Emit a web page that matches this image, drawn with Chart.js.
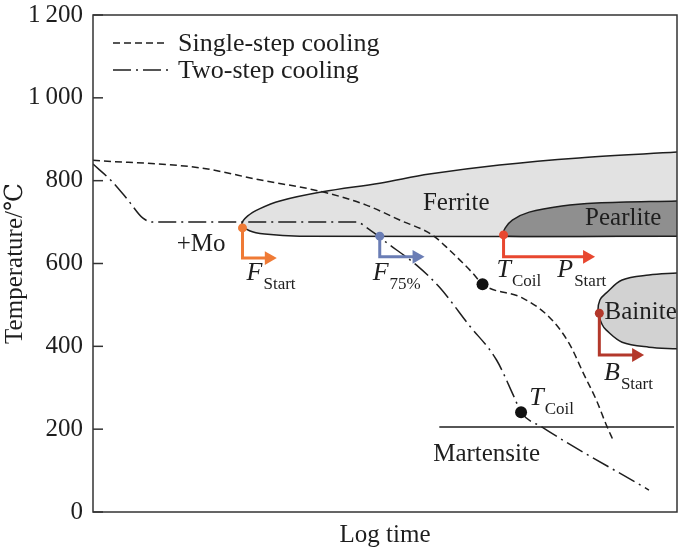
<!DOCTYPE html>
<html>
<head>
<meta charset="utf-8">
<script src="https://cdn.jsdelivr.net/npm/chart.js@4.4.1/dist/chart.umd.min.js"></script>
<style>
  html, body { margin: 0; padding: 0; background: #fff; }
</style>
</head>
<body>
<canvas id="cct" width="685" height="553"></canvas>
<script>
// ---- data (x = log time, arbitrary units 0-100; y = temperature in °C) ----
const singleStep = [[0,849],[18.3,831],[28.5,802],[39.3,773],[46.8,741],[52.5,705],[58.1,669],
  [61.0,633],[65.0,577],[66.7,550],[73.5,517],[78.1,471],[81.5,408],[84.1,331],
  [86.2,270],[87.9,210],[89.2,169]];
const twoStep = [[0,840],[3.2,799],[6.0,753],[8.5,710],[10.3,700],[45.1,700],[47.4,681],
  [50.3,650],[55.4,596],[59.3,543],[64.4,451],[69.1,367],[72.1,278],[73.3,241],[76.9,205],[95.2,53]];

const ferriteTop = [[100,869],[83.2,855],[69.6,838],[57.6,816],[49.1,794],[39.3,773],[32.0,751],
  [28.5,732],[26.5,715],[25.5,695]];
const ferriteBottom = [[26.8,679],[29.4,671],[35.4,666],[100,666]];
const pearliteTop = [[100,751],[86.2,746],[80.3,739],[74.7,724],[71.8,705],[70.6,686],[70.3,672]];
const pearliteBottom = [[71.2,666],[100,666]];
const bainiteTop = [[100,577],[95.2,572],[90.6,560],[87.9,529],[86.8,512],[86.5,482]];
const bainiteBottom = [[87.2,452],[87.9,439],[90.6,410],[95.2,398],[100,394]];
const martensite = [[59.3,205],[99.5,205]];

const coilPoints = [[66.7,550],[73.3,241]];
const fStart = [[25.6,686],[25.6,613],[30.1,613]];
const f75 = [[49.1,666],[49.1,616],[55.4,616]];
const pStart = [[70.3,669],[70.3,616],[84.6,616]];
const bStart = [[86.7,480],[86.7,379],[93.0,379]];

const tempTicks = [0, 200, 400, 600, 800, 1000, 1200];

const regionLabels = [
  { text: 'Ferrite', x: 62.2, y: 746, align: 'center' },
  { text: 'Pearlite', x: 90.8, y: 710, align: 'center' },
  { text: 'Bainite', x: 87.6, y: 483, align: 'left' },
  { text: 'Martensite', x: 67.4, y: 138, align: 'center' },
  { text: '+Mo', x: 18.5, y: 645, align: 'center' }
];
const markerLabels = [
  { main: 'F', sub: 'Start', x: 26.3, y: 560 },
  { main: 'F', sub: '75%', x: 47.9, y: 560 },
  { main: 'T', sub: 'Coil', x: 69.1, y: 567 },
  { main: 'P', sub: 'Start', x: 79.5, y: 567 },
  { main: 'B', sub: 'Start', x: 87.5, y: 319 },
  { main: 'T', sub: 'Coil', x: 74.7, y: 258 }
];

const SERIF = '"Liberation Serif", "DejaVu Serif", serif';
const INK = '#1e1e1e';
const DASH_SINGLE = [7, 4];
const DASH_TWO = [18, 5, 2, 5];

const pts = arr => arr.map(([x, y]) => ({ x, y }));

function region(data, color, order) {
  return {
    data: pts(data), showLine: true, fill: 'shape', backgroundColor: color,
    borderColor: INK, borderWidth: 1.5, pointRadius: 0, tension: 0.35, order
  };
}
function arrow(data, color) {
  return {
    data: pts(data), showLine: true, borderColor: color, borderWidth: 3,
    backgroundColor: color, pointBackgroundColor: color, pointBorderWidth: 0,
    pointStyle: ['circle', 'circle', 'triangle'], pointRadius: [4.5, 0, 8],
    pointRotation: [0, 0, 90], order: 1
  };
}

// frame, inward ticks, legend and text labels
const decorations = {
  id: 'decorations',
  afterDraw(chart) {
    const { ctx, chartArea: a, scales: { x, y } } = chart;
    ctx.save();
    ctx.strokeStyle = '#333';
    ctx.lineWidth = 1.5;
    ctx.strokeRect(a.left, a.top, a.right - a.left, a.bottom - a.top);
    tempTicks.forEach(t => {
      const py = y.getPixelForValue(t);
      ctx.beginPath(); ctx.moveTo(a.left, py); ctx.lineTo(a.left + 10, py); ctx.stroke();
    });

    // legend
    ctx.strokeStyle = INK;
    ctx.lineWidth = 1.5;
    [[DASH_SINGLE, 'Single-step cooling', 28], [DASH_TWO, 'Two-step cooling', 55]].forEach(([dash, label, dy]) => {
      ctx.setLineDash(dash);
      ctx.beginPath(); ctx.moveTo(a.left + 20, a.top + dy); ctx.lineTo(a.left + 75, a.top + dy); ctx.stroke();
      ctx.setLineDash([]);
      ctx.fillStyle = INK;
      ctx.font = '26px ' + SERIF;
      ctx.textAlign = 'left'; ctx.textBaseline = 'middle';
      ctx.fillText(label, a.left + 85, a.top + dy + 1);
    });

    // phase labels
    ctx.fillStyle = INK;
    ctx.font = '25px ' + SERIF;
    ctx.textBaseline = 'middle';
    regionLabels.forEach(l => {
      ctx.textAlign = l.align;
      ctx.fillText(l.text, x.getPixelForValue(l.x), y.getPixelForValue(l.y));
    });

    // symbols with subscripts
    ctx.textAlign = 'left';
    ctx.textBaseline = 'alphabetic';
    markerLabels.forEach(l => {
      const px = x.getPixelForValue(l.x), py = y.getPixelForValue(l.y);
      ctx.font = 'italic 26px ' + SERIF;
      ctx.fillText(l.main, px, py);
      const w = ctx.measureText(l.main).width;
      ctx.font = '17px ' + SERIF;
      ctx.fillText(l.sub, px + w + 1, py + 9);
    });
    ctx.restore();
  }
};

new Chart(document.getElementById('cct'), {
  type: 'scatter',
  data: {
    datasets: [
      { data: pts(coilPoints), pointRadius: 6, pointBackgroundColor: '#111', pointBorderWidth: 0, order: 0 },
      arrow(fStart, '#ef7a35'),
      arrow(f75, '#6a7db5'),
      arrow(pStart, '#e8472f'),
      arrow(bStart, '#b3382b'),
      { data: pts(singleStep), showLine: true, borderColor: INK, borderWidth: 1.5, borderDash: DASH_SINGLE,
        pointRadius: 0, cubicInterpolationMode: 'monotone', order: 2 },
      { data: pts(twoStep), showLine: true, borderColor: INK, borderWidth: 1.5, borderDash: DASH_TWO,
        pointRadius: 0, cubicInterpolationMode: 'monotone', order: 2 },
      { data: pts(martensite), showLine: true, borderColor: INK, borderWidth: 1.5, pointRadius: 0, order: 3 },
      region([...bainiteTop, ...bainiteBottom], '#d2d2d2', 4),
      region([...pearliteTop, ...pearliteBottom], '#8f8f8f', 5),
      region([...ferriteTop, ...ferriteBottom], '#e2e2e2', 6)
    ]
  },
  options: {
    responsive: false,
    animation: false,
    events: [],
    layout: { padding: { top: 15, right: 7, left: 0, bottom: 0 } },
    plugins: { legend: { display: false }, tooltip: { enabled: false } },
    scales: {
      x: {
        type: 'linear', min: 0, max: 100,
        grid: { display: false },
        border: { display: false },
        ticks: { display: false },
        title: { display: true, text: 'Log time', color: INK, font: { family: SERIF, size: 25 }, padding: { top: 0, bottom: 3 } },
        afterFit: s => { s.height = 41; }
      },
      y: {
        min: 0, max: 1200,
        grid: { display: false, drawTicks: false },
        border: { display: false },
        afterBuildTicks: s => { s.ticks = tempTicks.map(v => ({ value: v })); },
        ticks: {
          padding: 10, color: INK, font: { family: SERIF, size: 25 },
          callback: v => v >= 1000 ? Math.floor(v / 1000) + '\u2009' + String(v % 1000).padStart(3, '0') : String(v)
        },
        title: { display: true, text: 'Temperature/℃', color: INK, font: { family: SERIF, size: 25 }, padding: 0 },
        afterFit: s => { s.width = 93; s.paddingTop = 0; s.paddingBottom = 0; }
      }
    }
  },
  plugins: [decorations]
});
</script>
</body>
</html>
